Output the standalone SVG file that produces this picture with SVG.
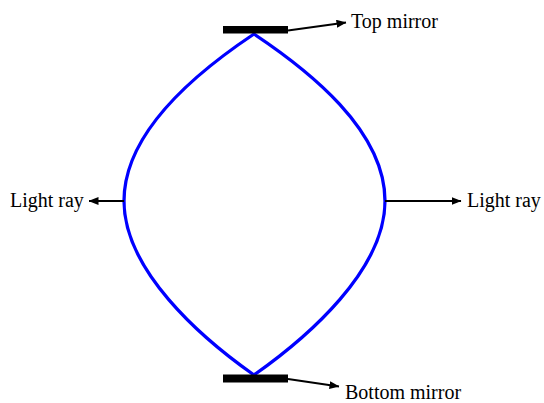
<svg xmlns="http://www.w3.org/2000/svg" width="544" height="403" viewBox="0 0 544 403">
<style>
text{font-family:"Liberation Serif",serif;font-size:20px;fill:#000}
.ray{fill:none;stroke:#0000ff;stroke-width:3.3}
.ar{stroke:#000;stroke-width:1.8;fill:none;marker-end:url(#ah)}
.mir{fill:#000}
</style>
<defs><marker id="ah" viewBox="0 0 10 8" refX="9.5" refY="4" markerWidth="10" markerHeight="8" markerUnits="userSpaceOnUse" orient="auto"><path d="M0,0 L10,4 L0,8 z" fill="#000"/></marker></defs>
<rect width="544" height="403" fill="#fff"/>
<g id="beam"><path class="ray" d="M254,34 C200,70 124,130 124,201 C124,270 200,337 254,375 C308,337 385,270 385,201 C385,130 308,70 254,34 Z"/></g>
<g id="top-mirror"><rect class="mir" x="223" y="26" width="65" height="7.5"/><text x="351" y="28">Top mirror</text></g>
<g id="bottom-mirror"><rect class="mir" x="223" y="374.5" width="65" height="8"/><text x="345" y="399">Bottom mirror</text></g>
<g id="left-label"><text x="10" y="207">Light ray</text></g>
<g id="right-label"><text x="467" y="207">Light ray</text></g>
<g id="connectors">
<path class="ar" d="M288,30.5 L346,22.5"/>
<path class="ar" d="M288,379 L339,386.5"/>
<path class="ar" d="M124,201 L89,201"/>
<path class="ar" d="M385,201 L461,201"/>
</g>
</svg>
